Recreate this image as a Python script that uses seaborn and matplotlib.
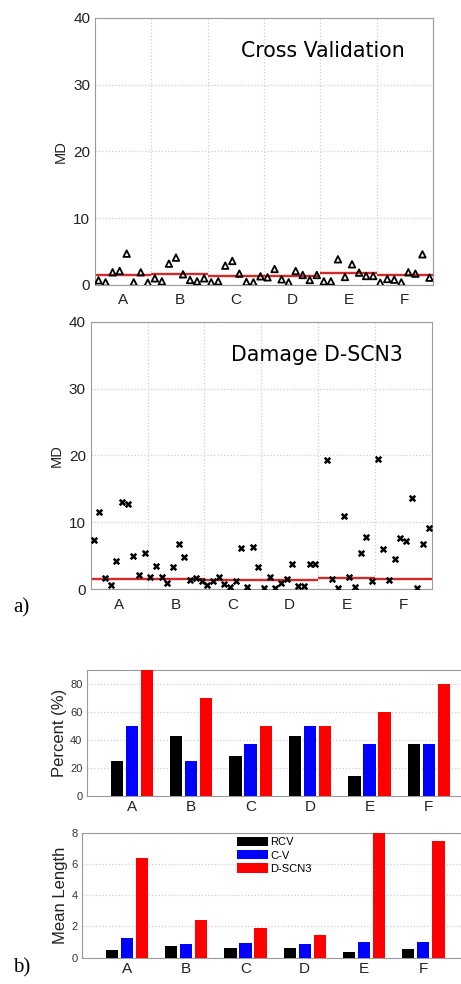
import numpy as np
import pandas as pd
import seaborn as sns
import matplotlib.pyplot as plt

sns.set_style("white")
plt.rcParams['font.family'] = ['Liberation Sans', 'DejaVu Sans']
plt.rcParams['text.color'] = 'black'

groups = ["A", "B", "C", "D", "E", "F"]

# MD values, cross validation (8 per group)
cv_md = [0.7, 0.4, 1.9, 2.1, 4.7, 0.4, 1.9, 0.35,
         1.0, 0.55, 3.2, 4.1, 1.6, 0.75, 0.55, 1.0,
         0.4, 0.55, 2.9, 3.6, 1.7, 0.45, 0.4, 1.3,
         1.15, 2.4, 0.85, 0.4, 2.1, 1.5, 0.75, 1.5,
         0.55, 0.55, 3.85, 1.2, 3.1, 1.85, 1.35, 1.35,
         0.35, 0.9, 0.8, 0.4, 1.9, 1.7, 4.6, 1.1]

# MD values, damage D-SCN3 (10 per group)
dscn3_md = [7.4, 11.6, 1.75, 0.6, 4.2, 13.1, 12.8, 5.0, 2.1, 5.5,
            1.9, 3.5, 1.9, 0.95, 3.4, 6.8, 4.9, 1.4, 1.65, 1.3,
            0.6, 1.3, 1.9, 0.8, 0.35, 1.25, 6.1, 0.35, 6.3, 3.4,
            0.15, 1.9, 0.15, 0.9, 1.55, 3.8, 0.5, 0.55, 3.85, 3.85,
            np.nan, 19.4, 1.6, 0.25, 10.9, 1.85, 0.35, 5.4, 7.8, 1.25,
            19.55, 5.95, 1.35, 4.6, 7.7, 7.2, 13.7, 0.25, 6.7, 9.2]

series = ["RCV", "C-V", "D-SCN3"]
rcv_pct = [25, 42.9, 28.6, 42.9, 14.3, 37.5]
cv_pct = [50, 25, 37.5, 50, 37.5, 37.5]
dscn3_pct = [90, 70, 50, 50, 60, 80]
rcv_len = [0.49, 0.72, 0.6, 0.6, 0.34, 0.58]
cv_len = [1.26, 0.87, 0.96, 0.85, 1.02, 0.98]
dscn3_len = [6.38, 2.39, 1.9, 1.47, 8.0, 7.46]

W, H = 461, 984
fig = plt.figure(figsize=(W / 100, H / 100), dpi=100)


def box(l, t, r, b):
    return [l / W, 1 - b / H, (r - l) / W, (b - t) / H]


def md_frame(values, per_group):
    df = pd.DataFrame({"MD": values})
    df["pos"] = np.arange(1, len(values) + 1)
    df["group"] = np.repeat(groups, per_group)
    return df


cv = md_frame(cv_md, 8)
dscn = md_frame(dscn3_md, 10)
cv_mean = cv.groupby("group")["MD"].mean()

spine_col = "#9a9a9a"


def md_panel(ax, df, title, **scatter_kws):
    sns.scatterplot(data=df, x="pos", y="MD", ax=ax, legend=False, zorder=3, **scatter_kws)
    rng = df.groupby("group")["pos"].agg(["min", "max"])
    for g in groups:
        ax.hlines(cv_mean[g], rng.loc[g, "min"] - 0.5, rng.loc[g, "max"] + 0.5,
                  color="#d22a2a", lw=1.7, zorder=2)
    ax.set_xlim(0.5, len(df) + 0.5)
    ax.set_ylim(0, 40)
    ax.set_yticks([0, 10, 20, 30, 40])
    ax.set_xticks(rng["max"].values[:-1] + 0.5, labels=[])
    ax.set_xticks((rng["min"] + rng["max"]).values / 2, labels=groups, minor=True)
    ax.grid(True, which="major", color="#cfcfcf", ls=":", lw=0.9)
    ax.tick_params(axis="x", which="both", length=0, labelsize=11, pad=6,
                   labelcolor="#222222")
    ax.tick_params(axis="y", length=3, direction="in", labelsize=11, color=spine_col,
                   labelcolor="#222222")
    ax.set_xlabel("")
    ax.set_ylabel("MD", fontsize=10.5, labelpad=4, color="#222222")
    for s in ax.spines.values():
        s.set_color(spine_col)
    ax.text(0.915, 0.875, title, transform=ax.transAxes, ha="right", va="center",
            fontsize=14.8, family="DejaVu Sans", color="black")


ax1 = fig.add_axes(box(95, 18, 433, 285))
md_panel(ax1, cv, "Cross Validation", marker="^", s=22, color="none",
         edgecolor="black", linewidth=1.3)

ax2 = fig.add_axes(box(90.7, 321.7, 431.7, 589.3))
md_panel(ax2, dscn, "Damage D-SCN3", marker="x", s=16, color="black", linewidth=1.8)

fig.text(13 / W, 1 - 608 / H, "a)", family="Liberation Serif", fontsize=15, va="center")


def bar_frame(a, b, c):
    return pd.DataFrame({
        "group": groups * 3,
        "series": np.repeat(series, len(groups)),
        "value": list(a) + list(b) + list(c),
    })


pal = ["black", "#0000ff", "#ff0000"]


def bar_panel(ax, df, ylim, yticks, ylabel, legend):
    sns.barplot(data=df, x="group", y="value", hue="series", palette=pal,
                width=0.76, gap=0.18, ax=ax, legend=legend, edgecolor="none",
                saturation=1, zorder=3)
    ax.set_xlim(-0.75, 5.75)
    ax.set_ylim(*ylim)
    ax.set_yticks(yticks)
    ax.yaxis.grid(True, color="#cfcfcf", ls=":", lw=0.9)
    ax.tick_params(axis="x", length=0, labelsize=11, pad=3, labelcolor="#222222")
    ax.tick_params(axis="y", length=2, direction="in", labelsize=8,
                   labelcolor="#333333", color=spine_col)
    ax.set_xlabel("")
    ax.set_ylabel(ylabel, fontsize=12, labelpad=2, color="#222222")
    for s in ax.spines.values():
        s.set_color(spine_col)


ax3 = fig.add_axes(box(87.3, 670, 473.4, 796))
bar_panel(ax3, bar_frame(rcv_pct, cv_pct, dscn3_pct), (0, 90), [0, 20, 40, 60, 80],
          "Percent (%)", False)

ax4 = fig.add_axes(box(82.3, 832.7, 467.8, 957.7))
bar_panel(ax4, bar_frame(rcv_len, cv_len, dscn3_len), (0, 8), [0, 2, 4, 6, 8],
          "Mean Length", True)
handles, labels = ax4.get_legend_handles_labels()
ax4.legend(handles, labels, loc="upper left", bbox_to_anchor=(237 / W, 1 - 837 / H),
           bbox_transform=fig.transFigure, frameon=False, fontsize=8,
           handlelength=2.8, handleheight=0.9, handletextpad=0.2,
           labelspacing=0.25, borderpad=0, borderaxespad=0)

fig.text(13 / W, 1 - 968 / H, "b)", family="Liberation Serif", fontsize=15, va="center")

fig.savefig("out.png", dpi=100)
